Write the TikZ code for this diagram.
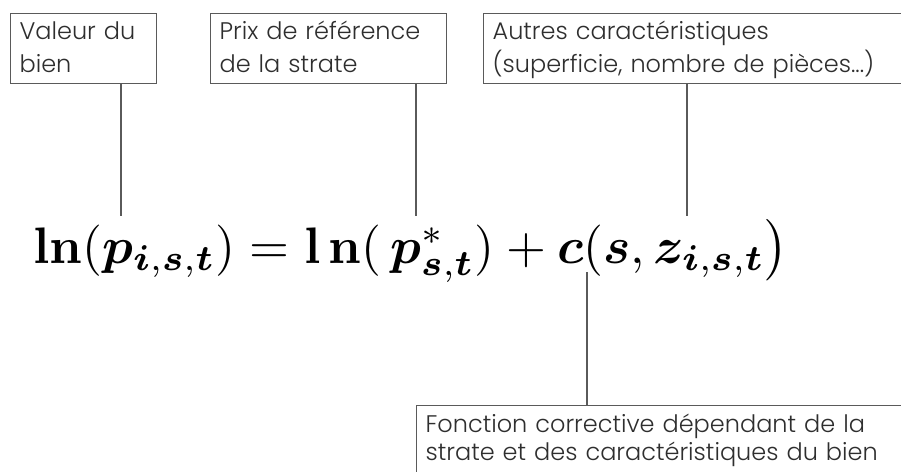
\documentclass[tikz,border=0pt]{standalone}
\usepackage[no-math]{fontspec}
\usepackage{amsmath,bm}
\setmainfont{Poppins}[UprightFont=* Light]
\definecolor{txt}{HTML}{2E2E2E}
\definecolor{ln}{HTML}{5A5A5A}
\newcommand{\topstrut}[1]{\rule{0pt}{#1}}
\newcommand{\botstrut}[1]{\rule[-#1]{0pt}{#1}}
\begin{document}
\begin{tikzpicture}[x=1pt,y=-1pt,
  lbox/.style={draw=ln, line width=1.2pt, anchor=north west, inner xsep=9pt, inner ysep=0pt,
     align=left, text=txt, font=\fontsize{24}{33}\selectfont},
  lead/.style={draw=ln, line width=1.1pt}]
\useasboundingbox (0,0) rectangle (901,471);
\fill[white] (0,0) rectangle (901,471);
\node[lbox, minimum width=146pt, text width=128pt] (b1) at (10,13) {\topstrut{26pt}Valeur du\\bien\botstrut{11pt}};
\node[lbox, minimum width=236pt, text width=218pt] (b2) at (210,13) {\topstrut{26pt}Prix de référence\\de la strate\botstrut{11pt}};
\node[lbox, minimum width=430pt, text width=412pt] (b3) at (483,13) {\topstrut{26pt}Autres caractéristiques\\(superficie, nombre de pièces...)\botstrut{11pt}};
\node[lbox, minimum width=500pt, text width=482pt, font=\fontsize{24}{28}\selectfont] (b4) at (416,405) {\topstrut{27pt}Fonction corrective dépendant de la\\strate et des caractéristiques du bien\botstrut{20pt}};
\node[anchor=base west, inner sep=0pt, text=black] (f) at (33,263)
  {\resizebox{755pt}{!}{$\mathbf{ln}(\bm{p}_{\bm{i},\bm{s},\bm{t}}) = \mathbf{l\,n}(\,\bm{p}^{*}_{\bm{s},\bm{t}}) + \bm{c}(\bm{s},\bm{z}_{\bm{i},\bm{s},\bm{t}}\bigr)$}};
\coordinate (e1) at (121,216);
\coordinate (e2) at (416,216);
\coordinate (e3) at (687,216);
\coordinate (e4) at (587,272);
\draw[lead] (b1.south -| e1) -- (e1);
\draw[lead] (b2.south -| e2) -- (e2);
\draw[lead] (b3.south -| e3) -- (e3);
\draw[lead] (b4.north -| e4) -- (e4);
\end{tikzpicture}
\end{document}
